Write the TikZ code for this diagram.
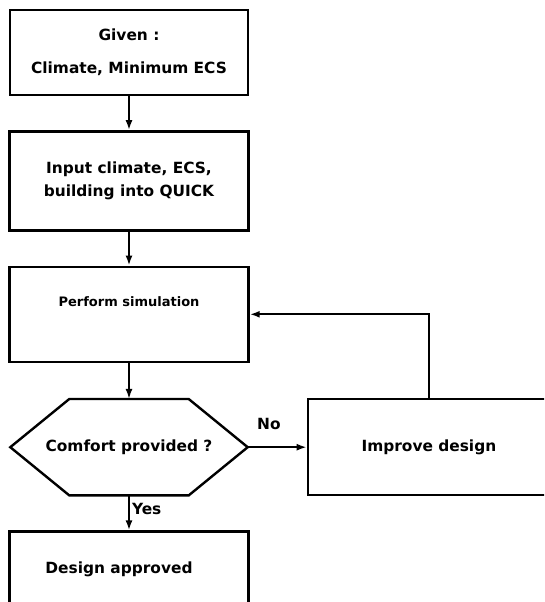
\documentclass[tikz,border=0pt]{standalone}
\usepackage{fontspec}
\newfontfamily\chartfont{DejaVu Sans}
\usepackage{tikz}
\usetikzlibrary{arrows.meta,positioning}
\tikzset{
  block/.style={draw,line width=2.4pt,align=center,font=\chartfont\bfseries\fontsize{15.4}{19}\selectfont,inner sep=0pt},
  decision/.style={minimum width=237pt,minimum height=96pt,align=center,font=\chartfont\bfseries\fontsize{15.4}{19}\selectfont,inner sep=0pt},
  txt/.style={font=\chartfont\bfseries\fontsize{15.4}{19}\selectfont,inner sep=2pt},
  arrow/.style={-{Latex[length=10pt,width=7pt]},line width=2pt}
}

\begin{document}
\begin{tikzpicture}[x=1pt,y=1pt]
\useasboundingbox (0,0) rectangle (544,602);
\clip (0,0) rectangle (544,602);
\node[block,minimum width=238pt,minimum height=85pt] (given) at (129,549.5) {Given :\\[14pt]Climate, Minimum ECS};
\node[block,minimum width=239pt,minimum height=99pt,below=34pt of given] (input) {Input climate, ECS,\\[4pt]building into QUICK};
\node[block,minimum width=239pt,minimum height=95pt,below=34pt of input] (sim) {};
\node[txt,font=\chartfont\bfseries\fontsize{13}{16}\selectfont] (simtext) at ([yshift=12.5pt]sim.center) {Perform simulation};
\node[decision,below=36pt of sim] (comfort) {Comfort provided ?};
\draw[line width=2.4pt] (comfort.west) -- ([xshift=59pt]comfort.north west) -- ([xshift=-59pt]comfort.north east)
  -- (comfort.east) -- ([xshift=-59pt]comfort.south east) -- ([xshift=59pt]comfort.south west) -- cycle;
\node[block,minimum width=239pt,minimum height=110pt,below=35pt of comfort] (approved) {};
\node[txt] (approvedtext) at ([xshift=-10pt,yshift=-39pt]approved.north) {Design approved};
\node[block,minimum width=242pt,minimum height=96pt,right=59pt of comfort] (improve) {Improve design};
% connectors
\draw[arrow] (given) -- (input);
\draw[arrow] (input) -- (sim);
\draw[arrow] (sim) -- (comfort);
\draw[arrow] (comfort.south) -- node[txt,right,pos=0.4]{Yes} (approved.north);
\draw[arrow] (comfort.east) -- node[txt,above=14pt,pos=0.36]{No} (improve.west);
\draw[arrow] (improve.north) |- (sim.east);
\end{tikzpicture}
\end{document}
